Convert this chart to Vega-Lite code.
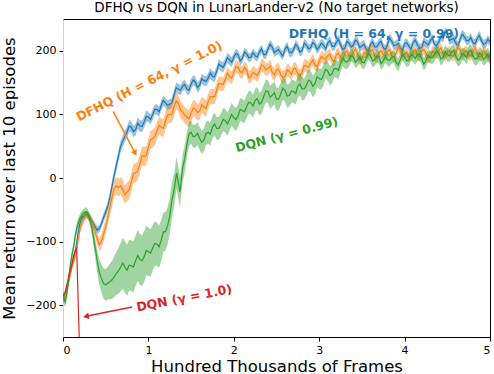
{
  "$schema": "https://vega.github.io/schema/vega-lite/v6.json",
  "width": 427,
  "height": 318,
  "autosize": {"type": "none"},
  "padding": {"left": 63, "top": 19, "right": 4, "bottom": 37},
  "title": {"text": "DFHQ vs DQN in LunarLander-v2 (No target networks)", "fontSize": 13.5, "fontWeight": "normal", "font": "DejaVu Sans", "color": "black", "offset": 5},
  "datasets": {
    "dfhq099": [
      {"x":0,"y":-188,"e":6},{"x":0.025,"y":-182,"e":6},{"x":0.05,"y":-172,"e":6},{"x":0.075,"y":-155,"e":6},{"x":0.1,"y":-140,"e":6},{"x":0.125,"y":-126,"e":6},{"x":0.15,"y":-112,"e":6},{"x":0.175,"y":-88,"e":6},{"x":0.2,"y":-70,"e":6},{"x":0.225,"y":-62,"e":5},{"x":0.25,"y":-60,"e":5},{"x":0.275,"y":-57,"e":5},{"x":0.3,"y":-58,"e":5},{"x":0.325,"y":-64,"e":5},{"x":0.35,"y":-70,"e":5},{"x":0.375,"y":-76,"e":6},{"x":0.4,"y":-82,"e":6},{"x":0.425,"y":-80,"e":6},{"x":0.45,"y":-72,"e":6},{"x":0.475,"y":-62,"e":7},{"x":0.5,"y":-54,"e":7},{"x":0.525,"y":-44,"e":7},{"x":0.55,"y":-30,"e":8},{"x":0.575,"y":-12,"e":8},{"x":0.6,"y":5,"e":8},{"x":0.625,"y":20,"e":9},{"x":0.65,"y":35,"e":9},{"x":0.675,"y":50,"e":9},{"x":0.7,"y":58,"e":9},{"x":0.725,"y":66,"e":9},{"x":0.75,"y":72,"e":9},
      {"x":0.775,"y":82,"e":9},{"x":0.8,"y":80,"e":9},{"x":0.825,"y":73,"e":9},{"x":0.85,"y":76,"e":9},{"x":0.875,"y":86,"e":9},{"x":0.9,"y":82,"e":9},{"x":0.925,"y":81,"e":9},{"x":0.95,"y":88,"e":9},{"x":0.975,"y":97,"e":9},{"x":1.0,"y":96,"e":8},{"x":1.025,"y":92,"e":8},{"x":1.05,"y":100,"e":8},{"x":1.075,"y":108,"e":8},{"x":1.1,"y":108,"e":8},{"x":1.125,"y":104,"e":8},{"x":1.15,"y":114,"e":8},{"x":1.175,"y":122,"e":8},{"x":1.2,"y":118,"e":8},{"x":1.225,"y":114,"e":8},{"x":1.25,"y":116,"e":8},{"x":1.275,"y":118,"e":8},{"x":1.3,"y":130,"e":8},{"x":1.325,"y":142,"e":8},{"x":1.35,"y":140,"e":8},{"x":1.375,"y":138,"e":8},{"x":1.4,"y":144,"e":8},{"x":1.425,"y":147,"e":8},{"x":1.45,"y":140,"e":8},{"x":1.475,"y":138,"e":8},{"x":1.5,"y":148,"e":8},{"x":1.525,"y":154,"e":8},{"x":1.55,"y":151,"e":8},{"x":1.575,"y":142,"e":8},{"x":1.6,"y":146,"e":8},{"x":1.625,"y":156,"e":8},{"x":1.65,"y":153,"e":8},{"x":1.675,"y":152,"e":8},{"x":1.7,"y":157,"e":8},{"x":1.725,"y":165,"e":8},{"x":1.75,"y":160,"e":8},{"x":1.775,"y":159,"e":8},{"x":1.8,"y":168,"e":8},{"x":1.825,"y":179,"e":8},{"x":1.85,"y":176,"e":8},{"x":1.875,"y":174,"e":8},{"x":1.9,"y":181,"e":8},{"x":1.925,"y":189,"e":8},{"x":1.95,"y":186,"e":8},{"x":1.975,"y":182,"e":8},
      {"x":2.0,"y":190,"e":7},{"x":2.025,"y":196,"e":7},{"x":2.05,"y":194,"e":7},{"x":2.075,"y":184,"e":7},{"x":2.1,"y":188,"e":7},{"x":2.125,"y":198,"e":7},{"x":2.15,"y":195,"e":7},{"x":2.175,"y":189,"e":7},{"x":2.2,"y":190,"e":7},{"x":2.225,"y":197,"e":7},{"x":2.25,"y":192,"e":7},{"x":2.275,"y":190,"e":7},{"x":2.3,"y":198,"e":7},{"x":2.325,"y":203,"e":7},{"x":2.35,"y":194,"e":7},{"x":2.375,"y":194,"e":7},{"x":2.4,"y":203,"e":7},{"x":2.425,"y":210,"e":7},{"x":2.45,"y":206,"e":7},{"x":2.475,"y":197,"e":7},{"x":2.5,"y":200,"e":7},{"x":2.525,"y":202,"e":7},{"x":2.55,"y":196,"e":7},{"x":2.575,"y":192,"e":7},{"x":2.6,"y":203,"e":7},{"x":2.625,"y":207,"e":7},{"x":2.65,"y":198,"e":7},{"x":2.675,"y":197,"e":7},{"x":2.7,"y":202,"e":7},{"x":2.725,"y":210,"e":7},{"x":2.75,"y":206,"e":7},{"x":2.775,"y":198,"e":7},{"x":2.8,"y":200,"e":7},{"x":2.825,"y":212,"e":7},{"x":2.85,"y":209,"e":7},{"x":2.875,"y":203,"e":7},{"x":2.9,"y":205,"e":7},{"x":2.925,"y":213,"e":7},{"x":2.95,"y":210,"e":7},{"x":2.975,"y":202,"e":7},{"x":3.0,"y":206,"e":7},{"x":3.025,"y":212,"e":7},{"x":3.05,"y":209,"e":7},{"x":3.075,"y":203,"e":7},{"x":3.1,"y":212,"e":7},{"x":3.125,"y":216,"e":7},{"x":3.15,"y":207,"e":7},{"x":3.175,"y":207,"e":7},{"x":3.2,"y":213,"e":7},{"x":3.225,"y":218,"e":7},{"x":3.25,"y":210,"e":7},{"x":3.275,"y":202,"e":7},{"x":3.3,"y":204,"e":7},{"x":3.325,"y":215,"e":7},{"x":3.35,"y":212,"e":7},{"x":3.375,"y":206,"e":7},{"x":3.4,"y":209,"e":7},{"x":3.425,"y":217,"e":7},{"x":3.45,"y":214,"e":7},{"x":3.475,"y":205,"e":7},{"x":3.5,"y":208,"e":7},{"x":3.525,"y":210,"e":7},{"x":3.55,"y":203,"e":7},{"x":3.575,"y":199,"e":7},{"x":3.6,"y":210,"e":7},{"x":3.625,"y":214,"e":7},{"x":3.65,"y":206,"e":7},{"x":3.675,"y":206,"e":7},{"x":3.7,"y":212,"e":7},{"x":3.725,"y":215,"e":7},{"x":3.75,"y":205,"e":7},{"x":3.775,"y":202,"e":7},{"x":3.8,"y":210,"e":7},{"x":3.825,"y":220,"e":7},{"x":3.85,"y":215,"e":7},{"x":3.875,"y":208,"e":7},{"x":3.9,"y":209,"e":7},{"x":3.925,"y":212,"e":7},{"x":3.95,"y":204,"e":7},{"x":3.975,"y":201,"e":7},{"x":4.0,"y":211,"e":7},{"x":4.025,"y":213,"e":7},{"x":4.05,"y":207,"e":7},{"x":4.075,"y":203,"e":7},{"x":4.1,"y":213,"e":7},{"x":4.125,"y":217,"e":7},{"x":4.15,"y":209,"e":7},{"x":4.175,"y":204,"e":7},{"x":4.2,"y":205,"e":7},{"x":4.225,"y":215,"e":7},{"x":4.25,"y":212,"e":7},{"x":4.275,"y":209,"e":7},{"x":4.3,"y":216,"e":7},{"x":4.325,"y":220,"e":7},{"x":4.35,"y":210,"e":7},{"x":4.375,"y":208,"e":7},{"x":4.4,"y":214,"e":7},{"x":4.425,"y":222,"e":7},{"x":4.45,"y":220,"e":7},{"x":4.475,"y":230,"e":7},{"x":4.5,"y":227,"e":7},{"x":4.525,"y":216,"e":7},{"x":4.55,"y":218,"e":7},{"x":4.575,"y":219,"e":7},{"x":4.6,"y":212,"e":7},{"x":4.625,"y":208,"e":7},{"x":4.65,"y":218,"e":7},{"x":4.675,"y":226,"e":7},{"x":4.7,"y":222,"e":7},{"x":4.725,"y":216,"e":7},{"x":4.75,"y":216,"e":7},{"x":4.775,"y":221,"e":7},{"x":4.8,"y":213,"e":7},{"x":4.825,"y":211,"e":7},{"x":4.85,"y":219,"e":7},{"x":4.875,"y":224,"e":7},{"x":4.9,"y":216,"e":7},{"x":4.925,"y":210,"e":7},{"x":4.95,"y":212,"e":7},{"x":4.975,"y":218,"e":7},{"x":5.0,"y":214,"e":7}
    ],
    "dfhq10": [
      {"x":0,"y":-190,"e":6},{"x":0.025,"y":-184,"e":6},{"x":0.05,"y":-172,"e":6},{"x":0.075,"y":-158,"e":6},{"x":0.1,"y":-142,"e":6},{"x":0.125,"y":-130,"e":6},{"x":0.15,"y":-121,"e":6},{"x":0.175,"y":-100,"e":6},{"x":0.2,"y":-80,"e":6},{"x":0.225,"y":-69,"e":6},{"x":0.25,"y":-62,"e":6},{"x":0.275,"y":-58,"e":6},{"x":0.3,"y":-60,"e":6},{"x":0.325,"y":-66,"e":7},{"x":0.35,"y":-74,"e":7},{"x":0.375,"y":-84,"e":8},{"x":0.4,"y":-96,"e":9},{"x":0.425,"y":-105,"e":10},{"x":0.45,"y":-100,"e":11},{"x":0.475,"y":-88,"e":12},{"x":0.5,"y":-76,"e":12},{"x":0.525,"y":-62,"e":12},{"x":0.55,"y":-45,"e":13},{"x":0.575,"y":-30,"e":14},{"x":0.6,"y":-16,"e":14},{"x":0.625,"y":-12,"e":14},{"x":0.65,"y":-15,"e":14},{"x":0.675,"y":-12,"e":14},{"x":0.7,"y":-18,"e":15},{"x":0.725,"y":-26,"e":15},{"x":0.75,"y":-22,"e":15},
      {"x":0.775,"y":-19,"e":15},{"x":0.8,"y":-6,"e":15},{"x":0.825,"y":7,"e":15},{"x":0.85,"y":8,"e":15},{"x":0.875,"y":11,"e":15},{"x":0.9,"y":22,"e":15},{"x":0.925,"y":35,"e":15},{"x":0.95,"y":34,"e":15},{"x":0.975,"y":35,"e":15},{"x":1.0,"y":48,"e":14},{"x":1.025,"y":60,"e":14},{"x":1.05,"y":62,"e":14},{"x":1.075,"y":65,"e":14},{"x":1.1,"y":74,"e":14},{"x":1.125,"y":83,"e":14},{"x":1.15,"y":80,"e":14},{"x":1.175,"y":78,"e":14},{"x":1.2,"y":90,"e":14},{"x":1.225,"y":99,"e":14},{"x":1.25,"y":100,"e":14},{"x":1.275,"y":101,"e":14},{"x":1.3,"y":112,"e":14},{"x":1.325,"y":121,"e":13},{"x":1.35,"y":118,"e":13},{"x":1.375,"y":107,"e":13},{"x":1.4,"y":104,"e":13},{"x":1.425,"y":99,"e":13},{"x":1.45,"y":96,"e":13},{"x":1.475,"y":93,"e":13},{"x":1.5,"y":102,"e":13},{"x":1.525,"y":110,"e":13},{"x":1.55,"y":108,"e":13},{"x":1.575,"y":103,"e":13},{"x":1.6,"y":105,"e":13},{"x":1.625,"y":115,"e":13},{"x":1.65,"y":112,"e":13},{"x":1.675,"y":109,"e":13},{"x":1.7,"y":120,"e":12},{"x":1.725,"y":128,"e":12},{"x":1.75,"y":128,"e":12},{"x":1.775,"y":128,"e":12},{"x":1.8,"y":138,"e":12},{"x":1.825,"y":149,"e":11},{"x":1.85,"y":148,"e":11},{"x":1.875,"y":147,"e":11},{"x":1.9,"y":155,"e":11},{"x":1.925,"y":165,"e":10},{"x":1.95,"y":160,"e":10},{"x":1.975,"y":157,"e":10},
      {"x":2.0,"y":166,"e":10},{"x":2.025,"y":175,"e":10},{"x":2.05,"y":174,"e":10},{"x":2.075,"y":167,"e":10},{"x":2.1,"y":166,"e":10},{"x":2.125,"y":174,"e":10},{"x":2.15,"y":170,"e":10},{"x":2.175,"y":158,"e":10},{"x":2.2,"y":160,"e":10},{"x":2.225,"y":166,"e":10},{"x":2.25,"y":164,"e":10},{"x":2.275,"y":161,"e":10},{"x":2.3,"y":168,"e":10},{"x":2.325,"y":178,"e":10},{"x":2.35,"y":176,"e":10},{"x":2.375,"y":170,"e":10},{"x":2.4,"y":172,"e":10},{"x":2.425,"y":176,"e":10},{"x":2.45,"y":166,"e":10},{"x":2.475,"y":162,"e":10},{"x":2.5,"y":170,"e":10},{"x":2.525,"y":171,"e":10},{"x":2.55,"y":162,"e":10},{"x":2.575,"y":158,"e":10},{"x":2.6,"y":160,"e":10},{"x":2.625,"y":170,"e":10},{"x":2.65,"y":168,"e":10},{"x":2.675,"y":163,"e":10},{"x":2.7,"y":172,"e":10},{"x":2.725,"y":172,"e":10},{"x":2.75,"y":164,"e":10},{"x":2.775,"y":160,"e":10},{"x":2.8,"y":166,"e":10},{"x":2.825,"y":177,"e":10},{"x":2.85,"y":176,"e":10},{"x":2.875,"y":174,"e":9},{"x":2.9,"y":180,"e":9},{"x":2.925,"y":186,"e":9},{"x":2.95,"y":178,"e":9},{"x":2.975,"y":175,"e":9},{"x":3.0,"y":184,"e":9},{"x":3.025,"y":191,"e":9},{"x":3.05,"y":188,"e":9},{"x":3.075,"y":187,"e":9},{"x":3.1,"y":192,"e":9},{"x":3.125,"y":195,"e":9},{"x":3.15,"y":186,"e":9},{"x":3.175,"y":183,"e":9},{"x":3.2,"y":194,"e":9},{"x":3.225,"y":196,"e":9},{"x":3.25,"y":190,"e":9},{"x":3.275,"y":188,"e":8},{"x":3.3,"y":196,"e":8},{"x":3.325,"y":200,"e":8},{"x":3.35,"y":192,"e":8},{"x":3.375,"y":191,"e":8},{"x":3.4,"y":198,"e":8},{"x":3.425,"y":203,"e":8},{"x":3.45,"y":194,"e":8},{"x":3.475,"y":185,"e":8},{"x":3.5,"y":188,"e":8},{"x":3.525,"y":197,"e":8},{"x":3.55,"y":196,"e":8},{"x":3.575,"y":195,"e":8},{"x":3.6,"y":200,"e":8},{"x":3.625,"y":202,"e":8},{"x":3.65,"y":192,"e":8},{"x":3.675,"y":188,"e":8},{"x":3.7,"y":197,"e":8},{"x":3.725,"y":200,"e":8},{"x":3.75,"y":194,"e":8},{"x":3.775,"y":192,"e":8},{"x":3.8,"y":199,"e":8},{"x":3.825,"y":202,"e":8},{"x":3.85,"y":192,"e":8},{"x":3.875,"y":190,"e":8},{"x":3.9,"y":196,"e":8},{"x":3.925,"y":205,"e":8},{"x":3.95,"y":201,"e":8},{"x":3.975,"y":192,"e":8},{"x":4.0,"y":195,"e":8},{"x":4.025,"y":198,"e":8},{"x":4.05,"y":190,"e":8},{"x":4.075,"y":191,"e":8},{"x":4.1,"y":198,"e":8},{"x":4.125,"y":202,"e":8},{"x":4.15,"y":194,"e":8},{"x":4.175,"y":190,"e":8},{"x":4.2,"y":199,"e":8},{"x":4.225,"y":202,"e":8},{"x":4.25,"y":196,"e":8},{"x":4.275,"y":188,"e":8},{"x":4.3,"y":190,"e":8},{"x":4.325,"y":200,"e":8},{"x":4.35,"y":197,"e":8},{"x":4.375,"y":195,"e":8},{"x":4.4,"y":200,"e":8},{"x":4.425,"y":205,"e":8},{"x":4.45,"y":195,"e":8},{"x":4.475,"y":191,"e":8},{"x":4.5,"y":198,"e":8},{"x":4.525,"y":200,"e":8},{"x":4.55,"y":192,"e":8},{"x":4.575,"y":192,"e":8},{"x":4.6,"y":197,"e":8},{"x":4.625,"y":206,"e":8},{"x":4.65,"y":202,"e":8},{"x":4.675,"y":193,"e":8},{"x":4.7,"y":198,"e":8},{"x":4.725,"y":200,"e":8},{"x":4.75,"y":194,"e":8},{"x":4.775,"y":192,"e":8},{"x":4.8,"y":199,"e":8},{"x":4.825,"y":204,"e":8},{"x":4.85,"y":196,"e":8},{"x":4.875,"y":190,"e":8},{"x":4.9,"y":192,"e":8},{"x":4.925,"y":201,"e":8},{"x":4.95,"y":196,"e":8},{"x":4.975,"y":189,"e":8},{"x":5.0,"y":193,"e":8}
    ],
    "dqn099": [
      {"x":0,"y":-186,"e":8},{"x":0.025,"y":-195,"e":8},{"x":0.05,"y":-178,"e":8},{"x":0.075,"y":-148,"e":8},{"x":0.1,"y":-125,"e":8},{"x":0.125,"y":-108,"e":8},{"x":0.15,"y":-86,"e":8},{"x":0.175,"y":-72,"e":8},{"x":0.2,"y":-63,"e":7},{"x":0.225,"y":-58,"e":7},{"x":0.25,"y":-54,"e":7},{"x":0.275,"y":-53,"e":7},{"x":0.3,"y":-60,"e":8},{"x":0.325,"y":-70,"e":9},{"x":0.35,"y":-88,"e":12},{"x":0.375,"y":-108,"e":15},{"x":0.4,"y":-130,"e":18},{"x":0.425,"y":-148,"e":20},{"x":0.45,"y":-158,"e":22},{"x":0.475,"y":-166,"e":24},{"x":0.5,"y":-168,"e":25},{"x":0.525,"y":-165,"e":26},{"x":0.55,"y":-163,"e":28},{"x":0.575,"y":-160,"e":30},{"x":0.6,"y":-155,"e":32},{"x":0.625,"y":-150,"e":34},{"x":0.65,"y":-146,"e":36},{"x":0.675,"y":-140,"e":38},{"x":0.7,"y":-134,"e":40},{"x":0.725,"y":-140,"e":40},{"x":0.75,"y":-145,"e":40},
      {"x":0.775,"y":-137,"e":40},{"x":0.8,"y":-138,"e":40},{"x":0.825,"y":-140,"e":40},{"x":0.85,"y":-130,"e":40},{"x":0.875,"y":-122,"e":40},{"x":0.9,"y":-128,"e":40},{"x":0.925,"y":-130,"e":40},{"x":0.95,"y":-124,"e":40},{"x":0.975,"y":-114,"e":39},{"x":1.0,"y":-116,"e":38},{"x":1.025,"y":-118,"e":37},{"x":1.05,"y":-110,"e":36},{"x":1.075,"y":-103,"e":35},{"x":1.1,"y":-104,"e":34},{"x":1.125,"y":-108,"e":33},{"x":1.15,"y":-98,"e":32},{"x":1.175,"y":-85,"e":31},{"x":1.2,"y":-84,"e":30},{"x":1.225,"y":-75,"e":29},{"x":1.25,"y":-60,"e":28},{"x":1.275,"y":-35,"e":27},{"x":1.3,"y":-20,"e":26},{"x":1.33,"y":8,"e":25},{"x":1.37,"y":-22,"e":24},{"x":1.4,"y":15,"e":22},{"x":1.425,"y":30,"e":21},{"x":1.45,"y":52,"e":20},{"x":1.475,"y":69,"e":19},{"x":1.5,"y":72,"e":18},{"x":1.525,"y":65,"e":18},{"x":1.55,"y":66,"e":18},{"x":1.575,"y":70,"e":18},{"x":1.6,"y":62,"e":18},{"x":1.625,"y":56,"e":18},{"x":1.65,"y":60,"e":18},{"x":1.675,"y":70,"e":18},{"x":1.7,"y":72,"e":18},{"x":1.725,"y":69,"e":18},{"x":1.75,"y":80,"e":18},{"x":1.775,"y":85,"e":18},{"x":1.8,"y":78,"e":18},{"x":1.825,"y":78,"e":18},{"x":1.85,"y":84,"e":18},{"x":1.875,"y":92,"e":18},{"x":1.9,"y":90,"e":18},{"x":1.925,"y":85,"e":18},{"x":1.95,"y":92,"e":18},{"x":1.975,"y":100,"e":18},
      {"x":2.0,"y":95,"e":18},{"x":2.025,"y":92,"e":18},{"x":2.05,"y":98,"e":18},{"x":2.075,"y":108,"e":18},{"x":2.1,"y":106,"e":18},{"x":2.125,"y":104,"e":18},{"x":2.15,"y":112,"e":18},{"x":2.175,"y":119,"e":18},{"x":2.2,"y":118,"e":18},{"x":2.225,"y":113,"e":18},{"x":2.25,"y":122,"e":18},{"x":2.275,"y":125,"e":18},{"x":2.3,"y":116,"e":18},{"x":2.325,"y":119,"e":18},{"x":2.35,"y":128,"e":18},{"x":2.375,"y":137,"e":18},{"x":2.4,"y":136,"e":18},{"x":2.425,"y":127,"e":18},{"x":2.45,"y":130,"e":18},{"x":2.475,"y":134,"e":18},{"x":2.5,"y":124,"e":18},{"x":2.525,"y":124,"e":18},{"x":2.55,"y":132,"e":18},{"x":2.575,"y":141,"e":18},{"x":2.6,"y":138,"e":18},{"x":2.625,"y":129,"e":18},{"x":2.65,"y":130,"e":18},{"x":2.675,"y":137,"e":18},{"x":2.7,"y":136,"e":18},{"x":2.725,"y":133,"e":18},{"x":2.75,"y":144,"e":18},{"x":2.775,"y":148,"e":18},{"x":2.8,"y":140,"e":18},{"x":2.825,"y":140,"e":17},{"x":2.85,"y":146,"e":17},{"x":2.875,"y":154,"e":17},{"x":2.9,"y":152,"e":17},{"x":2.925,"y":144,"e":17},{"x":2.95,"y":148,"e":17},{"x":2.975,"y":159,"e":16},{"x":3.0,"y":156,"e":16},{"x":3.025,"y":155,"e":16},{"x":3.05,"y":162,"e":16},{"x":3.075,"y":171,"e":15},{"x":3.1,"y":168,"e":15},{"x":3.125,"y":161,"e":15},{"x":3.15,"y":164,"e":15},{"x":3.175,"y":172,"e":14},{"x":3.2,"y":172,"e":14},{"x":3.225,"y":169,"e":14},{"x":3.25,"y":180,"e":13},{"x":3.275,"y":188,"e":12},{"x":3.3,"y":184,"e":12},{"x":3.325,"y":182,"e":11},{"x":3.35,"y":186,"e":11},{"x":3.375,"y":193,"e":10},{"x":3.4,"y":190,"e":10},{"x":3.425,"y":182,"e":10},{"x":3.45,"y":186,"e":10},{"x":3.475,"y":191,"e":10},{"x":3.5,"y":182,"e":10},{"x":3.525,"y":181,"e":10},{"x":3.55,"y":188,"e":10},{"x":3.575,"y":196,"e":10},{"x":3.6,"y":192,"e":10},{"x":3.625,"y":184,"e":10},{"x":3.65,"y":186,"e":10},{"x":3.675,"y":192,"e":10},{"x":3.7,"y":190,"e":10},{"x":3.725,"y":180,"e":10},{"x":3.75,"y":184,"e":10},{"x":3.775,"y":191,"e":10},{"x":3.8,"y":186,"e":10},{"x":3.825,"y":185,"e":10},{"x":3.85,"y":190,"e":10},{"x":3.875,"y":191,"e":10},{"x":3.9,"y":182,"e":10},{"x":3.925,"y":178,"e":10},{"x":3.95,"y":186,"e":10},{"x":3.975,"y":195,"e":10},{"x":4.0,"y":190,"e":10},{"x":4.025,"y":184,"e":10},{"x":4.05,"y":186,"e":10},{"x":4.075,"y":195,"e":10},{"x":4.1,"y":192,"e":10},{"x":4.125,"y":188,"e":10},{"x":4.15,"y":194,"e":10},{"x":4.175,"y":195,"e":10},{"x":4.2,"y":188,"e":10},{"x":4.225,"y":179,"e":10},{"x":4.25,"y":184,"e":10},{"x":4.275,"y":193,"e":10},{"x":4.3,"y":190,"e":10},{"x":4.325,"y":189,"e":10},{"x":4.35,"y":194,"e":10},{"x":4.375,"y":200,"e":10},{"x":4.4,"y":196,"e":10},{"x":4.425,"y":187,"e":10},{"x":4.45,"y":190,"e":10},{"x":4.475,"y":199,"e":10},{"x":4.5,"y":194,"e":10},{"x":4.525,"y":192,"e":10},{"x":4.55,"y":198,"e":10},{"x":4.575,"y":201,"e":10},{"x":4.6,"y":192,"e":10},{"x":4.625,"y":185,"e":10},{"x":4.65,"y":188,"e":10},{"x":4.675,"y":195,"e":10},{"x":4.7,"y":194,"e":10},{"x":4.725,"y":189,"e":10},{"x":4.75,"y":198,"e":10},{"x":4.775,"y":201,"e":10},{"x":4.8,"y":192,"e":10},{"x":4.825,"y":187,"e":10},{"x":4.85,"y":188,"e":10},{"x":4.875,"y":196,"e":10},{"x":4.9,"y":194,"e":10},{"x":4.925,"y":186,"e":10},{"x":4.95,"y":190,"e":10},{"x":4.975,"y":195,"e":10},{"x":5.0,"y":186,"e":10}
    ],
    "dqn10": [
      {"x":0,"y":-186},{"x":0.025,"y":-180},{"x":0.05,"y":-165},{"x":0.075,"y":-150},{"x":0.1,"y":-138},{"x":0.125,"y":-122},{"x":0.15,"y":-112},{"x":0.16,"y":-110},{"x":0.2,"y":-300}
    ]
  },
  "encoding": {
    "x": {"field": "x", "type": "quantitative", "scale": {"domain": [0, 5], "nice": false, "zero": false},
          "axis": {"values": [0, 1, 2, 3, 4, 5], "format": "d", "title": "Hundred Thousands of Frames", "labelPadding": 3, "titlePadding": 3}},
    "y": {"field": "y", "type": "quantitative", "scale": {"domain": [-250, 250], "nice": false, "zero": false},
          "axis": {"values": [-200, -100, 0, 100, 200], "title": "Mean return over last 10 episodes", "domainColor": "#d0d0d0", "labelPadding": 3, "titlePadding": 8}}
  },
  "layer": [
    {"data": {"name": "dfhq099"}, "mark": {"type": "errorband", "color": "#1f77b4", "band": {"opacity": 0.45}}, "encoding": {"yError": {"field": "e"}}},
    {"data": {"name": "dfhq099"}, "mark": {"type": "line", "color": "#1f77b4", "strokeWidth": 1.2, "clip": true}},
    {"data": {"name": "dfhq10"}, "mark": {"type": "errorband", "color": "#ff7f0e", "band": {"opacity": 0.45}}, "encoding": {"yError": {"field": "e"}}},
    {"data": {"name": "dfhq10"}, "mark": {"type": "line", "color": "#ff7f0e", "strokeWidth": 1.2, "clip": true}},
    {"data": {"name": "dqn099"}, "mark": {"type": "errorband", "color": "#2ca02c", "band": {"opacity": 0.45}}, "encoding": {"yError": {"field": "e"}}},
    {"data": {"name": "dqn099"}, "mark": {"type": "line", "color": "#2ca02c", "strokeWidth": 1.2, "clip": true}},
    {"data": {"name": "dqn10"}, "mark": {"type": "line", "color": "#d62728", "strokeWidth": 1.2, "clip": true}},
    {"data": {"values": [{"x": 0.587, "y": 104.6, "x2": 0.845, "y2": 39}]}, "mark": {"type": "rule", "color": "#ff7f0e", "strokeWidth": 1.5}, "encoding": {"x2": {"field": "x2"}, "y2": {"field": "y2"}}},
    {"data": {"values": [{"x": 0.845, "y": 39}]}, "mark": {"type": "point", "shape": "triangle-up", "filled": true, "size": 45, "angle": 152, "color": "#ff7f0e", "opacity": 1}},
    {"data": {"values": [{"x": 0.81, "y": -203, "x2": 0.27, "y2": -217.5}]}, "mark": {"type": "rule", "color": "#d62728", "strokeWidth": 1.5}, "encoding": {"x2": {"field": "x2"}, "y2": {"field": "y2"}}},
    {"data": {"values": [{"x": 0.27, "y": -217.5}]}, "mark": {"type": "point", "shape": "triangle-up", "filled": true, "size": 45, "angle": 259, "color": "#d62728", "opacity": 1}},
    {"data": {"values": [{"x": 3.64, "y": 226, "label": "DFHQ (H = 64, γ = 0.99)"}]}, "mark": {"type": "text", "font": "DejaVu Sans", "fontWeight": "bold", "fontSize": 12.5, "color": "#1f77b4", "align": "center", "baseline": "middle"}, "encoding": {"text": {"field": "label"}}},
    {"data": {"values": [{"x": 1.01, "y": 152, "label": "DFHQ (H = 64, γ = 1.0)"}]}, "mark": {"type": "text", "font": "DejaVu Sans", "fontWeight": "bold", "fontSize": 12.5, "color": "#ff7f0e", "align": "center", "baseline": "middle", "angle": -27}, "encoding": {"text": {"field": "label"}}},
    {"data": {"values": [{"x": 2.62, "y": 68, "label": "DQN (γ = 0.99)"}]}, "mark": {"type": "text", "font": "DejaVu Sans", "fontWeight": "bold", "fontSize": 12.5, "color": "#2ca02c", "align": "center", "baseline": "middle", "angle": -15}, "encoding": {"text": {"field": "label"}}},
    {"data": {"values": [{"x": 1.42, "y": -189, "label": "DQN (γ = 1.0)"}]}, "mark": {"type": "text", "font": "DejaVu Sans", "fontWeight": "bold", "fontSize": 12.5, "color": "#d62728", "align": "center", "baseline": "middle", "angle": -11}, "encoding": {"text": {"field": "label"}}}
  ],
  "config": {
    "font": "DejaVu Sans",
    "view": {"stroke": "black", "strokeWidth": 1},
    "axis": {"grid": false, "labelFont": "DejaVu Sans", "titleFont": "DejaVu Sans", "labelFontSize": 11, "titleFontSize": 16.5, "titleFontWeight": "normal", "labelColor": "black", "titleColor": "black", "tickColor": "black", "domainColor": "black", "tickSize": 4, "tickWidth": 1}
  }
}
